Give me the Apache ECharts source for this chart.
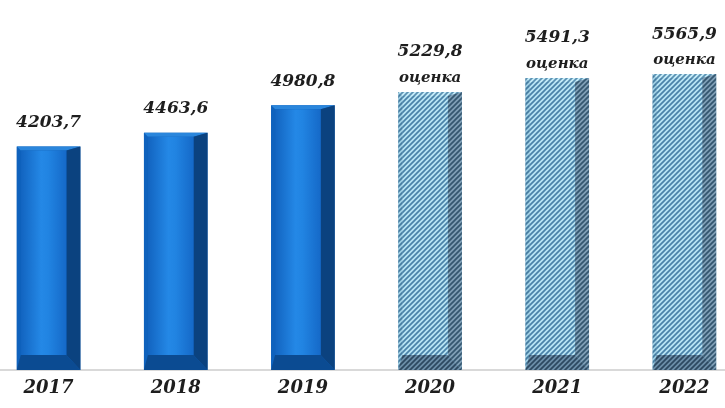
<!DOCTYPE html>
<html>
<head>
<meta charset="utf-8">
<script src="https://cdn.jsdelivr.net/npm/echarts@6/dist/echarts.min.js"></script>
<style>
html,body{margin:0;padding:0;background:#fff;overflow:hidden;width:725px;height:408px;}
#chart{position:absolute;left:-15px;top:0;width:763px;height:408px;}
</style>
</head>
<body>
<div id="chart"></div>
<script>
const categories = ['2017', '2018', '2019', '2020', '2021', '2022'];
const values = [4203.7, 4463.6, 4980.8, 5229.8, 5491.3, 5565.9];
const notes = ['', '', '', 'оценка', 'оценка', 'оценка'];

function makePattern(bg, stripe) {
  const c = document.createElement('canvas');
  c.width = 5; c.height = 5;
  const g = c.getContext('2d');
  g.fillStyle = bg; g.fillRect(0, 0, 5, 5);
  g.strokeStyle = stripe; g.lineWidth = 1.7;
  g.beginPath();
  g.moveTo(-1, 6); g.lineTo(6, -1);
  g.moveTo(-1, 1); g.lineTo(1, -1);
  g.moveTo(4, 6); g.lineTo(6, 4);
  g.stroke();
  return { image: c, repeat: 'repeat' };
}

const hatchFace = makePattern('#b8e4f4', '#4a82a8');
const hatchRight = makePattern('#7f9fb6', '#34566f');
const hatchBottom = makePattern('#6c8ea8', '#2c4860');
const hatchLeft = makePattern('#9fcfe4', '#447ba0');
const hatchTop = makePattern('#c6ecf8', '#5a90b2');

function fmt(v) { return v.toFixed(1).replace('.', ','); }

const chart = echarts.init(document.getElementById('chart'));

function renderItem(params, api) {
  const i = api.value(0);
  const v = api.value(1);
  const est = notes[i] !== '';
  const p0 = api.coord([i, 0]);
  const p1 = api.coord([i, v]);
  const bw = api.size([1, 0])[0] * 0.5;
  const l = p0[0] - bw / 2, r = p0[0] + bw / 2;
  const t = p1[1], b = p0[1];
  const bl = 4, bt = 4, br = 14, bb = 15;
  const children = [];
  const faceSolid = {
    type: 'linear', x: 0, y: 0, x2: 1, y2: 0,
    colorStops: [
      { offset: 0, color: '#1264c0' },
      { offset: 0.45, color: '#2488e6' },
      { offset: 0.6, color: '#2184e2' },
      { offset: 1, color: '#1569c8' }
    ]
  };
  const fills = est ? {
    outer: '#7aa6c2', left: hatchLeft, top: hatchTop, right: hatchRight, bottom: hatchBottom, face: hatchFace
  } : {
    outer: '#0d5cb4', left: '#0f62bd', top: '#2a86dc', right: '#0b427f', bottom: '#0b4b92', face: faceSolid
  };
  children.push({ type: 'rect', shape: { x: l, y: t, width: r - l, height: b - t }, style: { fill: fills.outer } });
  children.push({ type: 'polygon', shape: { points: [[l, t], [l + bl, t + bt], [l + bl, b - bb], [l, b]] }, style: { fill: fills.left } });
  children.push({ type: 'polygon', shape: { points: [[l, t], [r, t], [r - br, t + bt], [l + bl, t + bt]] }, style: { fill: fills.top } });
  children.push({ type: 'polygon', shape: { points: [[r, t], [r, b], [r - br, b - bb], [r - br, t + bt]] }, style: { fill: fills.right } });
  children.push({ type: 'polygon', shape: { points: [[l, b], [l + bl, b - bb], [r - br, b - bb], [r, b]] }, style: { fill: fills.bottom } });
  children.push({ type: 'rect', shape: { x: l + bl, y: t + bt, width: r - l - bl - br, height: b - t - bt - bb }, style: { fill: fills.face } });
  const txt = est ? '{v|' + fmt(v) + '}\n{n|' + notes[i] + '}' : '{v|' + fmt(v) + '}';
  children.push({
    type: 'text',
    style: {
      text: txt,
      x: p0[0],
      y: t - (est ? 2 : 10),
      align: 'center',
      verticalAlign: 'bottom',
      rich: {
        v: { fontFamily: 'DejaVu Serif', fontStyle: 'italic', fontWeight: 'bold', fontSize: 17, lineHeight: 28, fill: '#1e1e1e', align: 'center' },
        n: { fontFamily: 'DejaVu Serif', fontStyle: 'italic', fontWeight: 'bold', fontSize: 15, lineHeight: 24, fill: '#1e1e1e', align: 'center' }
      }
    }
  });
  return { type: 'group', children };
}

chart.setOption({
  backgroundColor: '#ffffff',
  animation: false,
  grid: { left: 0, right: 0, top: 51, bottom: 38 },
  xAxis: {
    type: 'category',
    data: categories,
    axisLine: { show: true, lineStyle: { color: '#d9d9d9', width: 2 } },
    axisTick: { show: false },
    axisLabel: {
      margin: 9,
      fontFamily: 'DejaVu Serif',
      fontStyle: 'italic',
      fontWeight: 'bold',
      fontSize: 18,
      color: '#1e1e1e'
    }
  },
  yAxis: { type: 'value', min: 0, max: 6000, show: false, splitLine: { show: false } },
  series: [{
    type: 'custom',
    renderItem: renderItem,
    encode: { x: 0, y: 1 },
    data: values.map((v, i) => [i, v])
  }]
});
</script>
</body>
</html>
